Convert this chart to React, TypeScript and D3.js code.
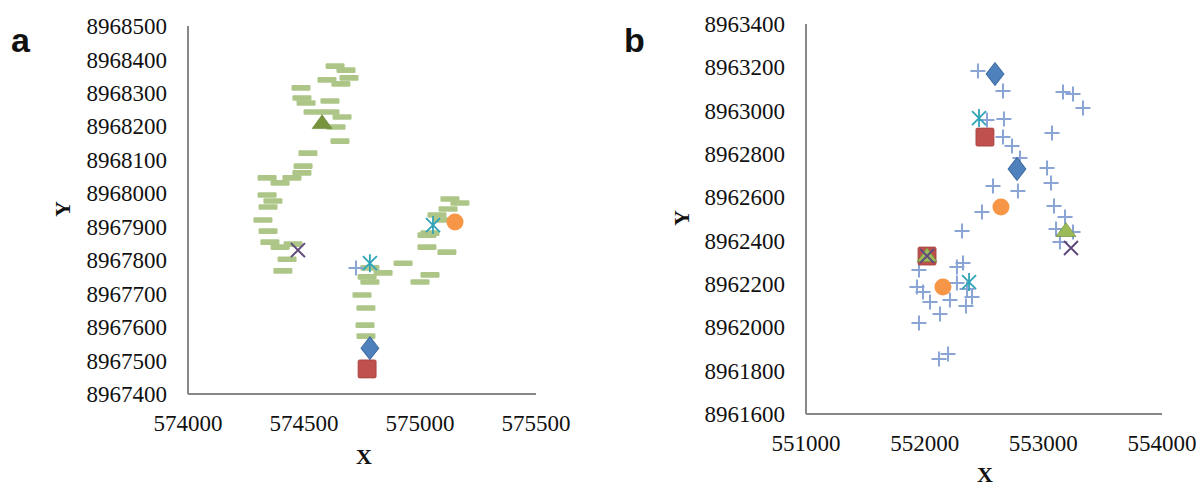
import React from 'react';
import * as d3 from 'd3';

// panel a: green dash markers (x, y)
const dashX = [574634, 574681, 574694, 574599, 574659, 574487, 574491, 574509, 574612, 574539, 574612, 574664,
  574638, 574655, 574517, 574496, 574491, 574341, 574397, 574448, 574341, 574366, 574345, 574323, 574345,
  574353, 574397, 574453, 574427, 574409, 574784, 574841, 574772, 574784, 574750, 574767, 574763, 574767,
  574927, 575043, 575000, 575030, 575030, 575116, 575129, 575172, 575121, 575073, 575099, 575043];
const dashY = [8968380, 8968368, 8968345, 8968339, 8968327, 8968315, 8968285, 8968270, 8968276, 8968243, 8968243, 8968228,
  8968198, 8968156, 8968120, 8968081, 8968061, 8968046, 8968031, 8968046, 8967995, 8967977, 8967959, 8967920, 8967887,
  8967854, 8967839, 8967848, 8967803, 8967768, 8967777, 8967762, 8967750, 8967735, 8967696, 8967657, 8967606, 8967573,
  8967791, 8967756, 8967735, 8967875, 8967839, 8967824, 8967983, 8967971, 8967953, 8967935, 8967920, 8967881];

// panel a: single reference points
const aDiamond = [[574784, 8967537]];
const aSquare = [[574772, 8967475]];
const aTriangle = [[574578, 8968210]];
const aCross = [[574474, 8967830]];
const aStar = [[574784, 8967791], [575056, 8967905]];
const aCircle = [[575151, 8967914]];
const aPlus = [[574724, 8967777]];

// panel b: plus markers
const plusX = [552449, 552660, 553166, 553250, 553334, 552525, 552668, 552660, 552736, 552803, 552778, 553073,
  553031, 553065, 552576, 552786, 552483, 552315, 553090, 553183, 553107, 553250, 553140, 551952, 551935,
  551986, 552045, 552129, 551952, 552323, 552272, 552272, 552213, 552357, 552399, 552348, 552197, 552121];
const plusY = [8963183, 8963091, 8963086, 8963077, 8963012, 8962957, 8962962, 8962878, 8962837, 8962782, 8962731, 8962897,
  8962735, 8962666, 8962652, 8962629, 8962532, 8962445, 8962560, 8962509, 8962454, 8962440, 8962394, 8962265, 8962186,
  8962163, 8962117, 8962062, 8962020, 8962297, 8962278, 8962205, 8962126, 8962177, 8962140, 8962098, 8961877, 8961854];

const bDiamond = [[552593, 8963169], [552778, 8962731]];
const bSquare = [[552508, 8962878], [552020, 8962329]];
const bCircle = [[552643, 8962555], [552154, 8962186]];
const bTriangle = [[553191, 8962445], [552020, 8962329]];
const bCross = [[553233, 8962366], [552020, 8962329]];
const bStar = [[552458, 8962966], [552374, 8962209]];

const aXTicks = [574000, 574500, 575000, 575500];
const aYTicks = [8967400, 8967500, 8967600, 8967700, 8967800, 8967900, 8968000, 8968100, 8968200, 8968300, 8968400, 8968500];
const bXTicks = [551000, 552000, 553000, 554000];
const bYTicks = [8961600, 8961800, 8962000, 8962200, 8962400, 8962600, 8962800, 8963000, 8963200, 8963400];

const serif = '"Liberation Serif", "Times New Roman", serif';
const axisColor = '#878787';

type Pt = number[];

const Diamond = ({ x, y }: { x: number; y: number }) => (
  <path d={d3.symbol(d3.symbolDiamond, 150)()!} transform={`translate(${x},${y}) scale(1.35,1)`} fill="#4f81bd" stroke="#3d6aa0" strokeWidth={0.8} />
);

const Panel = ({ label, xs, ys, xTicks, yTicks, xAxisTitle, yAxisTitle, children }: any) => {
  const x = xs, y = ys;
  const [x0, x1] = x.range();
  const [y0, y1] = y.range();
  return (
    <g>
      <line x1={x0} x2={x0} y1={y0} y2={y1} stroke={axisColor} strokeWidth={2} />
      <line x1={x0} x2={x1} y1={y0} y2={y0} stroke={axisColor} strokeWidth={2} />
      {yTicks.map((t: number) => (
        <text key={t} x={x0 - 21} y={y(t)} dy="0.35em" textAnchor="end" fontFamily={serif} fontSize={23} fill="#111">{t}</text>
      ))}
      {xTicks.map((t: number) => (
        <text key={t} x={x(t)} y={y0 + 37} textAnchor="middle" fontFamily={serif} fontSize={23} fill="#111">{t}</text>
      ))}
      <text x={label.x} y={label.y} fontFamily='"Liberation Sans", Arial, sans-serif' fontWeight="bold" fontSize={34} fill="#111">{label.t}</text>
      <text x={xAxisTitle[0]} y={xAxisTitle[1]} textAnchor="middle" fontFamily={serif} fontWeight="bold" fontSize={22} fill="#111">X</text>
      <text transform={`translate(${yAxisTitle[0]},${yAxisTitle[1]}) rotate(-90)`} textAnchor="middle" dy="0.35em" fontFamily={serif} fontWeight="bold" fontSize={22} fill="#111">Y</text>
      {children}
    </g>
  );
};

const markers = (x: any, y: any, s: {
  diamond: Pt[]; square: Pt[]; circle: Pt[]; triangle: Pt[]; cross: Pt[]; star: Pt[]; plus: Pt[]; triColor: string;
}) => {
  const plusPath = 'M-7.5,0H7.5M0,-7.5V7.5';
  const crossPath = 'M-7,-7L7,7M-7,7L7,-7';
  const starPath = 'M-7,-7L7,7M-7,7L7,-7M0,-9V9';
  const tri = d3.symbol(d3.symbolTriangle, 110)()!;
  return (
    <g>
      {s.plus.map((d, i) => (
        <path key={'p' + i} d={plusPath} transform={`translate(${x(d[0])},${y(d[1])})`} stroke="#8aa4d6" strokeWidth={2} fill="none" />
      ))}
      {s.square.map((d, i) => (
        <rect key={'s' + i} x={x(d[0]) - 9} y={y(d[1]) - 9} width={18} height={18} rx={1.5} fill="#c0504d" stroke="#a33f3c" strokeWidth={0.8} />
      ))}
      {s.circle.map((d, i) => (
        <circle key={'c' + i} cx={x(d[0])} cy={y(d[1])} r={8.5} fill="#f79646" />
      ))}
      {s.diamond.map((d, i) => (
        <Diamond key={'d' + i} x={x(d[0])} y={y(d[1])} />
      ))}
      {s.triangle.map((d, i) => (
        <path key={'t' + i} d={tri} transform={`translate(${x(d[0])},${y(d[1]) + 1}) scale(1.25,1)`} fill={s.triColor} stroke="#6b8a35" strokeWidth={0.6} />
      ))}
      {s.cross.map((d, i) => (
        <path key={'x' + i} d={crossPath} transform={`translate(${x(d[0])},${y(d[1])})`} stroke="#604a7b" strokeWidth={2} fill="none" />
      ))}
      {s.star.map((d, i) => (
        <path key={'a' + i} d={starPath} transform={`translate(${x(d[0])},${y(d[1])})`} stroke="#31a3b8" strokeWidth={1.8} fill="none" />
      ))}
    </g>
  );
};

export default function App() {
  const width = 1202, height = 486;

  const xa = d3.scaleLinear().domain([574000, 575500]).range([188, 536]);
  const ya = d3.scaleLinear().domain([8967400, 8968500]).range([394, 26]);
  const xb = d3.scaleLinear().domain([551000, 554000]).range([806, 1162]);
  const yb = d3.scaleLinear().domain([8961600, 8963400]).range([414, 24]);

  const dashes = dashX.map((v, i) => [v, dashY[i]]);
  const pluses = plusX.map((v, i) => [v, plusY[i]]);

  return (
    <svg width={width} height={height} style={{ position: 'absolute', left: 0, top: 0, background: '#fff' }}>
      <rect width={width} height={height} fill="#fff" />
      <Panel label={{ t: 'a', x: 11, y: 52 }} xs={xa} ys={ya} xTicks={aXTicks} yTicks={aYTicks} xAxisTitle={[364, 464]} yAxisTitle={[62, 209]}>
        <g fill="#adc688">
          {dashes.map((d, i) => (
            <rect key={i} x={xa(d[0]) - 9.5} y={ya(d[1]) - 2.8} width={19} height={5.6} rx={1.2} />
          ))}
        </g>
        {markers(xa, ya, { diamond: aDiamond, square: aSquare, circle: aCircle, triangle: aTriangle, cross: aCross, star: aStar, plus: aPlus, triColor: '#77933c' })}
      </Panel>
      <Panel label={{ t: 'b', x: 624, y: 52 }} xs={xb} ys={yb} xTicks={bXTicks} yTicks={bYTicks} xAxisTitle={[985, 482]} yAxisTitle={[681, 218]}>
        {markers(xb, yb, { diamond: bDiamond, square: bSquare, circle: bCircle, triangle: bTriangle, cross: bCross, star: bStar, plus: pluses, triColor: '#9bbb59' })}
      </Panel>
    </svg>
  );
}
